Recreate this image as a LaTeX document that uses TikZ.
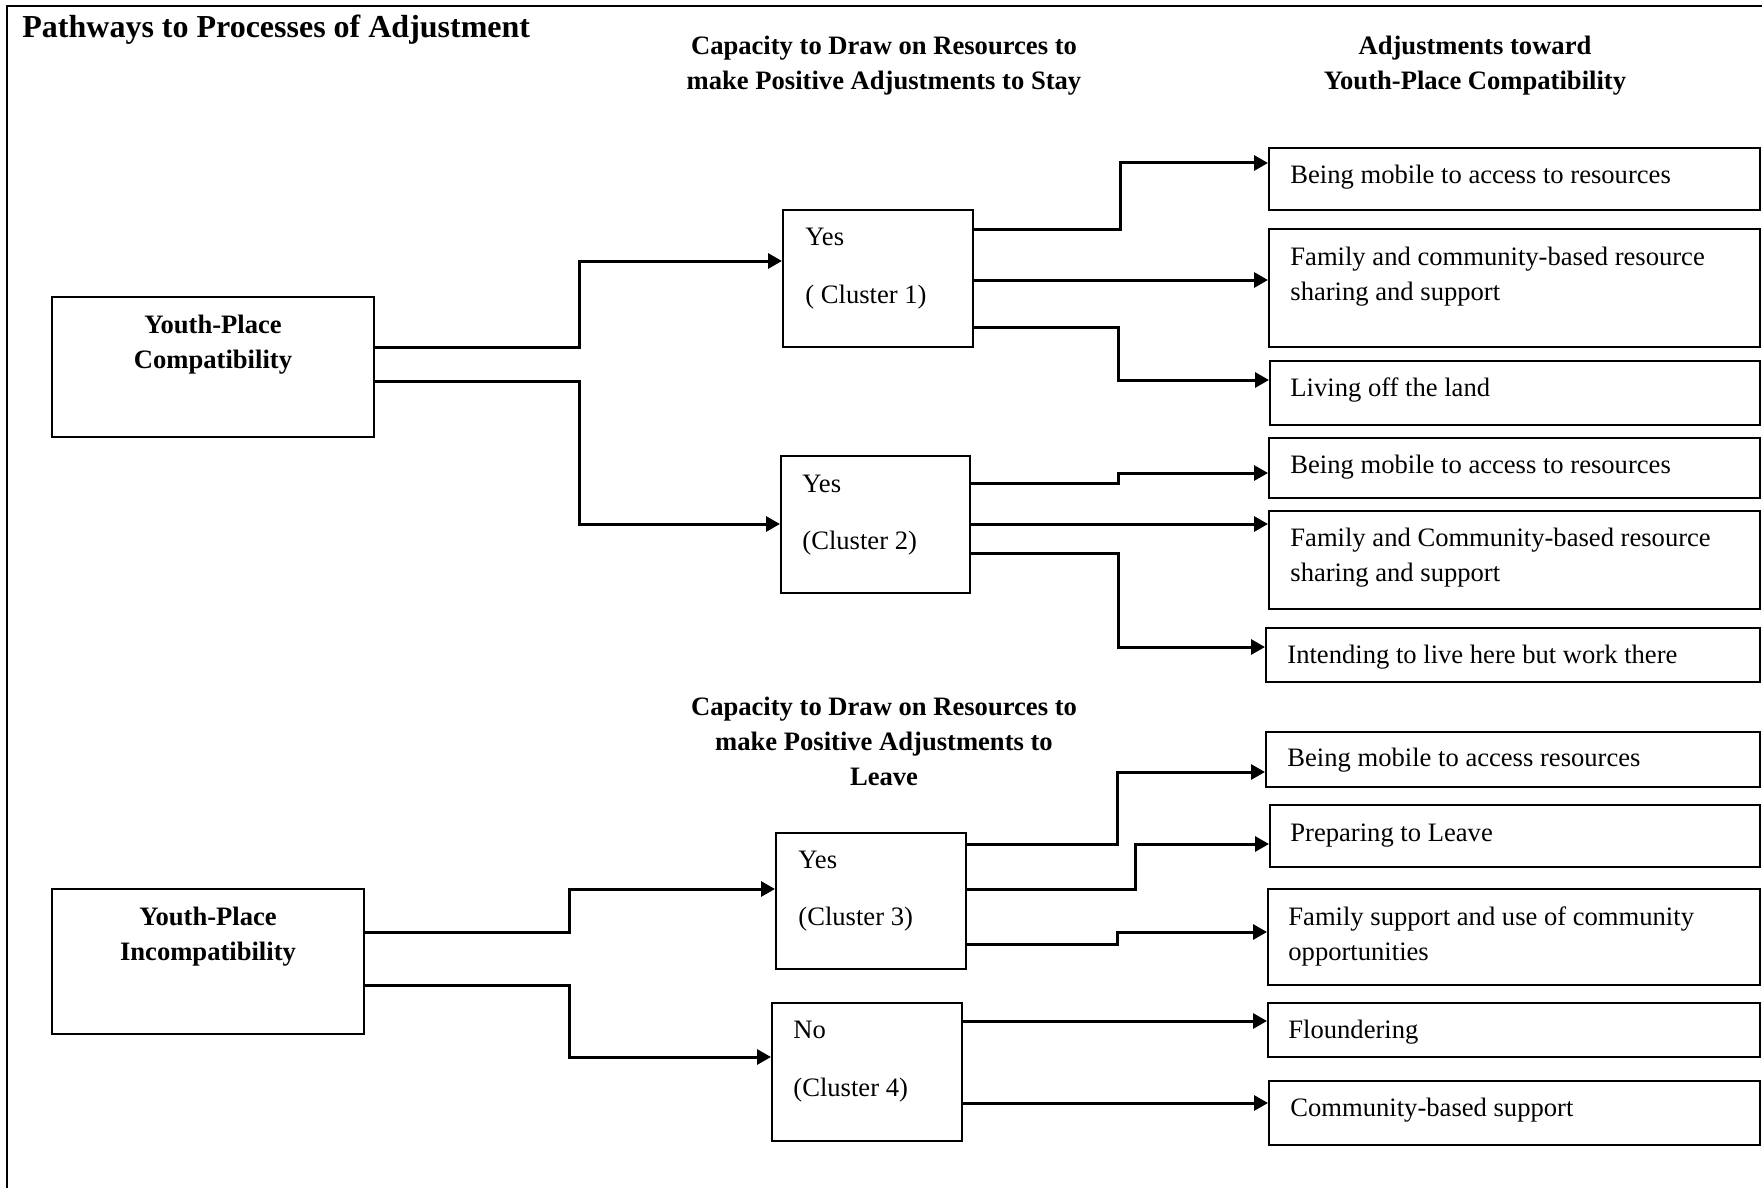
\documentclass[tikz,border=0pt]{standalone}
\usepackage{fontspec}
\setmainfont{Liberation Serif}
\usetikzlibrary{arrows.meta,fit}

\begin{document}
\begin{tikzpicture}[x=0.5pt, y=-0.5pt,
    box/.style={draw, line width=1pt, inner sep=0pt},
    conn/.style={line width=1.5pt, -{Triangle[length=7pt,width=7.5pt]}},
    txt/.style={anchor=base west, inner sep=0pt, align=left, font=\fontsize{13.3}{17.5}\selectfont},
    bold/.style={anchor=base, inner sep=0pt, align=center, font=\fontsize{13.3}{17.5}\selectfont\bfseries}]
    \useasboundingbox (0,0) rectangle (1762,1188);

    % Outer frame
    \draw[line width=1pt] (7,1188) -- (7,6) -- (1762,6);

    % Title and headings (base = last line)
    \node[anchor=base west, inner sep=0pt, font=\fontsize{16}{19}\selectfont\bfseries] (title) at (22,38) {Pathways to Processes of Adjustment};
    \node[bold] (headstay) at (884,90) {Capacity to Draw on Resources to\\make Positive Adjustments to Stay};
    \node[bold] (headadj) at (1475,90) {Adjustments toward\\Youth-Place Compatibility};
    \node[bold] (headleave) at (884,785) {Capacity to Draw on Resources to\\make Positive Adjustments to\\Leave};

    % Starting boxes
    \node[box, fit={(52,297) (374,437)}] (compat) {};
    \node[bold] at (213,368) {Youth-Place\\Compatibility};
    \node[box, fit={(52,889) (364,1034)}] (incompat) {};
    \node[bold] at (208,960) {Youth-Place\\Incompatibility};

    % Cluster boxes
    \node[box, fit={(783,210) (973,347)}] (clus1) {};
    \node[txt] at (805,245) {Yes};
    \node[txt] at (805,303) {( Cluster 1)};
    \node[box, fit={(781,456) (970,593)}] (clus2) {};
    \node[txt] at (802,492) {Yes};
    \node[txt] at (802,549) {(Cluster 2)};
    \node[box, fit={(776,833) (966,969)}] (clus3) {};
    \node[txt] at (798,868) {Yes};
    \node[txt] at (798,925) {(Cluster 3)};
    \node[box, fit={(772,1003) (962,1141)}] (clus4) {};
    \node[txt] at (793,1038) {No};
    \node[txt] at (793,1096) {(Cluster 4)};

    % Adjustment boxes
    \node[box, fit={(1269,148) (1760,210)}] (mobile1) {};
    \node[txt] at (1290,184) {Being mobile to access to resources};
    \node[box, fit={(1269,229) (1760,347)}] (share1) {};
    \node[txt] at (1290,300) {Family and community-based resource\\sharing and support};
    \node[box, fit={(1270,361) (1760,425)}] (land) {};
    \node[txt] at (1290,396) {Living off the land};
    \node[box, fit={(1269,438) (1760,498)}] (mobile2) {};
    \node[txt] at (1290,473) {Being mobile to access to resources};
    \node[box, fit={(1269,511) (1760,609)}] (share2) {};
    \node[txt] at (1290,581) {Family and Community-based resource\\sharing and support};
    \node[box, fit={(1266,628) (1760,682)}] (livework) {};
    \node[txt] at (1287,663) {Intending to live here but work there};
    \node[box, fit={(1266,732) (1760,787)}] (mobile3) {};
    \node[txt] at (1287,766) {Being mobile to access resources};
    \node[box, fit={(1270,805) (1760,867)}] (prepare) {};
    \node[txt] at (1290,841) {Preparing to Leave};
    \node[box, fit={(1268,889) (1760,985)}] (famsupp) {};
    \node[txt] at (1288,960) {Family support and use of community\\opportunities};
    \node[box, fit={(1268,1003) (1760,1057)}] (flounder) {};
    \node[txt] at (1288,1038) {Floundering};
    \node[box, fit={(1269,1081) (1760,1145)}] (commsupp) {};
    \node[txt] at (1290,1116) {Community-based support};

    % Connectors to clusters
    \draw[conn] (compat.east |- 0,347) -- (579,347) |- (clus1.west |- 0,261);
    \draw[conn] (compat.east |- 0,381) -- (579,381) |- (clus2.west |- 0,524);
    \draw[conn] (incompat.east |- 0,932) -- (569,932) |- (clus3.west |- 0,889);
    \draw[conn] (incompat.east |- 0,985) -- (569,985) |- (clus4.west |- 0,1057);

    % Connectors to adjustments
    \draw[conn] (clus1.east |- 0,229) -- (1120,229) |- (mobile1.west |- 0,163);
    \draw[conn] (clus1.east |- 0,280) -- (share1.west |- 0,280);
    \draw[conn] (clus1.east |- 0,327) -- (1118,327) |- (land.west |- 0,380);
    \draw[conn] (clus2.east |- 0,483) -- (1118,483) |- (mobile2.west |- 0,473);
    \draw[conn] (clus2.east |- 0,524) -- (share2.west |- 0,524);
    \draw[conn] (clus2.east |- 0,553) -- (1118,553) |- (livework.west |- 0,647);
    \draw[conn] (clus3.east |- 0,844) -- (1117,844) |- (mobile3.west |- 0,772);
    \draw[conn] (clus3.east |- 0,889) -- (1135,889) |- (prepare.west |- 0,844);
    \draw[conn] (clus3.east |- 0,944) -- (1117,944) |- (famsupp.west |- 0,932);
    \draw[conn] (clus4.east |- 0,1021) -- (flounder.west |- 0,1021);
    \draw[conn] (clus4.east |- 0,1103) -- (commsupp.west |- 0,1103);

\end{tikzpicture}
\end{document}
